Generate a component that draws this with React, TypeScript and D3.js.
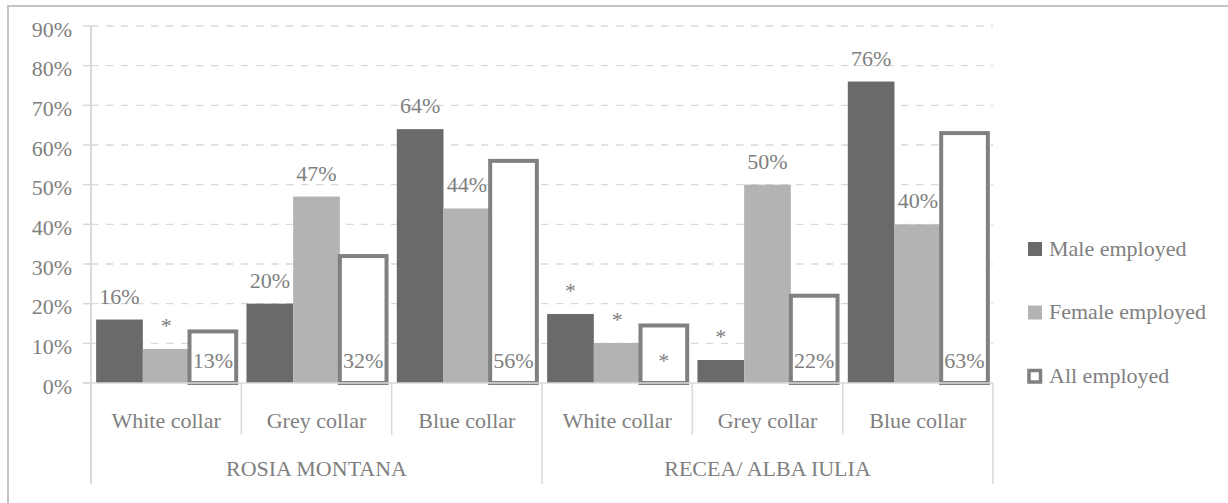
import React from "react";
import * as d3 from "d3";

// Employment by collar type, two localities
const groups = ["ROSIA MONTANA", "RECEA/ ALBA IULIA"];
const collars = ["White collar", "Grey collar", "Blue collar"];
const seriesNames = ["Male employed", "Female employed", "All employed"];

const maleValues = [16, 20, 64, 17.4, 5.8, 76];
const femaleValues = [8.6, 47, 44, 10.1, 50, 40];
const allValues = [13, 32, 56, 14.5, 22, 63];

const maleLabels = ["16%", "20%", "64%", "*", "*", "76%"];
const femaleLabels = ["*", "47%", "44%", "*", "50%", "40%"];
const allLabels = ["13%", "32%", "56%", "*", "22%", "63%"];

const yTicks = [0, 10, 20, 30, 40, 50, 60, 70, 80, 90];

const W = 1228;
const H = 503;
const FONT = "Liberation Serif, Tinos, Times New Roman, Times, DejaVu Serif, serif";
const TEXT = "#808080";
const AXIS = "#d9d9d9";
const MALE = "#6a6a6a";
const FEMALE = "#b3b3b3";
const ALL_STROKE = "#808080";

export default function App() {
  const left = 91;
  const right = 993;
  const y = d3.scaleLinear().domain([0, 90]).range([383, 26]);

  const categories = groups.flatMap((g, gi) => collars.map((c, ci) => ({ g, gi, c, ci })));
  const x = d3
    .scaleBand<number>()
    .domain(categories.map((_, i) => i))
    .range([left, right])
    .padding(0);
  const xs = d3
    .scaleBand<number>()
    .domain([0, 1, 2])
    .range([0, x.bandwidth()])
    .paddingInner(0)
    .paddingOuter(0.11);
  const bw = xs.bandwidth();
  const groupWidth = x.step() * collars.length;

  const base = y(0);
  const fs = 22;

  const legendY = (i: number) => 249 + i * 63.5;
  const textStyle = { fontFamily: FONT };

  return (
    <svg
      width={W}
      height={H}
      style={{ position: "absolute", left: 0, top: 0, display: "block", background: "#fff", fontFamily: FONT }}
    >
      <rect x={0} y={0} width={W} height={H} fill="#fff" />
      {/* chart frame */}
      <rect x={8} y={6} width={W + 20} height={H + 20} fill="none" stroke="#c4c4c4" strokeWidth={2} />

      {/* gridlines */}
      {yTicks.filter((t) => t > 0).map((t) => (
        <line
          key={"g" + t}
          x1={left}
          x2={right}
          y1={y(t)}
          y2={y(t)}
          stroke={AXIS}
          strokeWidth={1.3}
          strokeDasharray="7.5 7.5"
        />
      ))}
      {/* value axis ticks and labels */}
      {yTicks.map((t) => (
        <g key={"t" + t}>
          <line x1={83} x2={left} y1={y(t)} y2={y(t)} stroke={AXIS} strokeWidth={1.5} />
          <text x={72} y={y(t) + 10.5} textAnchor="end" fontSize={fs} fill={TEXT} style={textStyle}>
            {t}%
          </text>
        </g>
      ))}

      {/* bars */}
      {categories.map((cat, i) => {
        const x0 = x(i)!;
        const mx = x0 + xs(0)!;
        const fx = x0 + xs(1)!;
        const ax = x0 + xs(2)!;
        return (
          <g key={"c" + i}>
            <rect x={mx} y={y(maleValues[i])} width={bw} height={base - y(maleValues[i])} fill={MALE} />
            <rect x={fx} y={y(femaleValues[i])} width={bw} height={base - y(femaleValues[i])} fill={FEMALE} />
            <rect
              x={ax}
              y={y(allValues[i])}
              width={bw}
              height={base - y(allValues[i])}
              fill="#fff"
              stroke={ALL_STROKE}
              strokeWidth={4}
            />
          </g>
        );
      })}

      {/* axes lines */}
      <line x1={83} x2={right} y1={base} y2={base} stroke={AXIS} strokeWidth={1.5} />
      <line x1={left} x2={left} y1={y(90)} y2={484} stroke={AXIS} strokeWidth={2} />
      {categories.map((cat, i) => {
        const xe = x(i)! + x.step();
        const groupEnd = cat.ci === collars.length - 1;
        return (
          <line
            key={"s" + i}
            x1={xe}
            x2={xe}
            y1={base}
            y2={groupEnd ? 484 : 435}
            stroke={AXIS}
            strokeWidth={1.5}
          />
        );
      })}

      {/* category labels */}
      {categories.map((cat, i) => (
        <text
          key={"cl" + i}
          x={x(i)! + x.step() / 2}
          y={428}
          textAnchor="middle"
          fontSize={fs}
          fill={TEXT}
          style={textStyle}
        >
          {cat.c}
        </text>
      ))}
      {groups.map((g, gi) => (
        <text
          key={"gl" + gi}
          x={left + groupWidth * gi + groupWidth / 2}
          y={476}
          textAnchor="middle"
          fontSize={fs}
          fill={TEXT}
          style={textStyle}
        >
          {g}
        </text>
      ))}

      {/* data labels */}
      {categories.map((cat, i) => {
        const x0 = x(i)!;
        return (
          <g key={"dl" + i} fontSize={fs} fill={TEXT} textAnchor="middle" style={textStyle}>
            <text x={x0 + xs(0)! + bw / 2} y={y(maleValues[i]) - 16}>
              {maleLabels[i]}
            </text>
            <text x={x0 + xs(1)! + bw / 2} y={y(femaleValues[i]) - 16}>
              {femaleLabels[i]}
            </text>
            <text x={x0 + xs(2)! + bw / 2} y={base - 15}>
              {allLabels[i]}
            </text>
          </g>
        );
      })}

      {/* legend */}
      {seriesNames.map((s, i) => {
        const cy = legendY(i);
        return (
          <g key={"lg" + i}>
            {i < 2 ? (
              <rect x={1028} y={cy - 7} width={14} height={14} fill={i === 0 ? MALE : FEMALE} />
            ) : (
              <rect
                x={1029}
                y={cy - 5.5}
                width={11.5}
                height={11.5}
                fill="#fff"
                stroke={ALL_STROKE}
                strokeWidth={3.5}
              />
            )}
            <text x={1049} y={cy + 6.5} fontSize={fs} fill={TEXT} style={textStyle}>
              {s}
            </text>
          </g>
        );
      })}
    </svg>
  );
}
